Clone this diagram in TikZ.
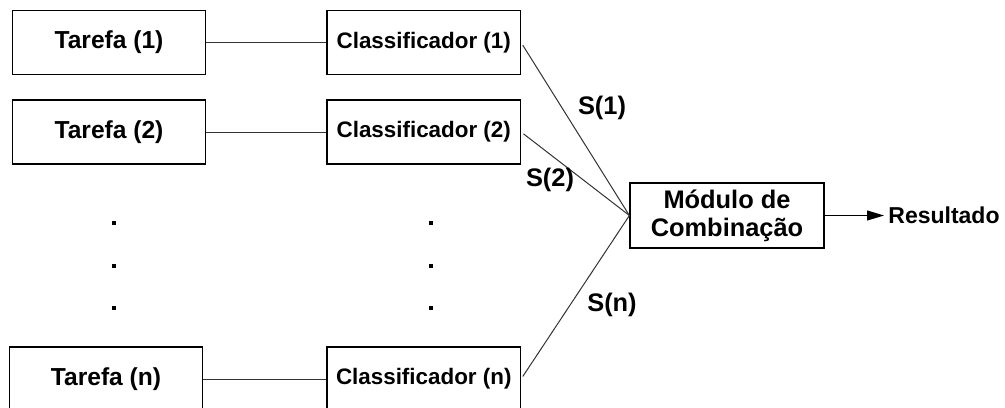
\documentclass[tikz,border=0pt]{standalone}
\usepackage{fontspec}
\setmainfont{Liberation Sans}
\usetikzlibrary{arrows.meta}
\begin{document}
\begin{tikzpicture}[x=0.5pt,y=-0.5pt,
  box/.style={draw=black,line width=0.6pt,inner sep=0pt,
    minimum width=96.75pt,minimum height=32pt,font=\bfseries},
  taskbox/.style={box,font=\fontsize{12.3}{14}\selectfont\bfseries},
  clsbox/.style={box,font=\fontsize{11.2}{13}\selectfont\bfseries},
  combbox/.style={draw=black,line width=0.6pt,inner sep=0pt,
    minimum width=97pt,minimum height=32.5pt,align=center,
    font=\fontsize{12.7}{14}\selectfont\bfseries},
  link/.style={draw=black!80,line width=0.5pt},
  slabel/.style={font=\fontsize{12.7}{14}\selectfont\bfseries,inner sep=0pt},
  ellip/.style={fill=black}
]
\useasboundingbox (0,0) rectangle (1005,407);

% task column
\node[taskbox] (t1) at (109,42.5) {Tarefa (1)};
\node[taskbox] (t2) at (109,132) {Tarefa (2)};
\node[taskbox] (tn) at (106,379) {Tarefa (n)};

% classifier column
\node[clsbox] (c1) at (423.75,42.5) {Classificador (1)};
\node[clsbox] (c2) at (423.75,132) {Classificador (2)};
\node[clsbox] (cn) at (423.75,379) {Classificador (n)};

% combination module and output
\node[combbox] (m) at (727,215.5) {Módulo de\\Combinação};
\node[anchor=west,inner sep=2pt,font=\fontsize{11.5}{13}\selectfont\bfseries]
  (res) at (884,215.5) {Resultado};

% ellipsis dots
\foreach \y in {223,266,308}{
  \fill[ellip] (112,\y-2) rectangle (116,\y+2);
  \fill[ellip] (429,\y-2) rectangle (433,\y+2);
}

% task -> classifier links
\draw[link] (t1) -- (c1);
\draw[link] (t2) -- (c2);
\draw[link] (tn) -- (cn);

% classifier scores -> combination
\draw[link,shorten <=1.5pt] (c1.east) -- (m.west);
\draw[link,shorten <=1.5pt] (c2.east) -- (m.west);
\draw[link,shorten <=1.5pt] (cn.east) -- (m.west);

\node[slabel] (s1) at (602,108) {S(1)};
\node[slabel] (s2) at (550,180) {S(2)};
\node[slabel] (sn) at (612,305) {S(n)};

% output arrow
\draw[black,line width=0.5pt,-{Triangle[length=8.5pt,width=5pt]}] (m.east) -- (res.west);
\end{tikzpicture}
\end{document}
